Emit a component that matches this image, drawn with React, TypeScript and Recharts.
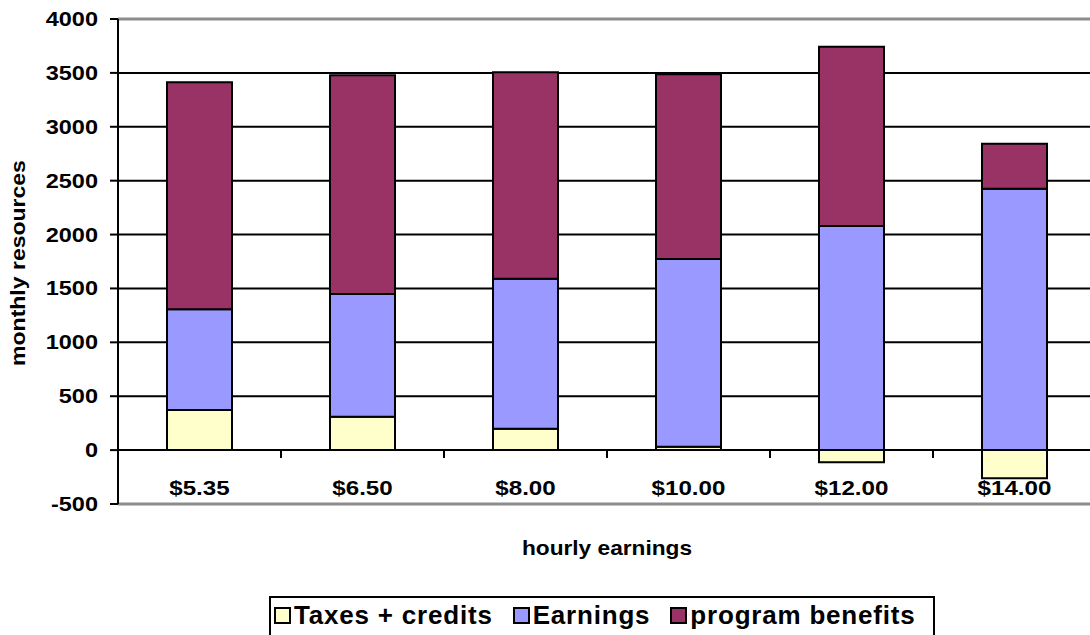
import { Bar, BarChart, CartesianGrid, ReferenceLine, XAxis, YAxis } from 'recharts';

const wages = ['$5.35', '$6.50', '$8.00', '$10.00', '$12.00', '$14.00'];
const taxesCredits = [372, 310, 199, 32, -113, -262];
const earnings = [934, 1138, 1391, 1741, 2079, 2425];
const programBenefits = [2106, 2030, 1915, 1714, 1664, 418];
const yTicks = [-500, 0, 500, 1000, 1500, 2000, 2500, 3000, 3500, 4000];

const data = wages.map((wage, i) => ({
  wage,
  taxes: taxesCredits[i],
  earnings: earnings[i],
  benefits: programBenefits[i],
}));

const FONT = 'Arial, "Liberation Sans", Helvetica, sans-serif';
const PLOT_H = 485;
const ZERO_OFFSET = (PLOT_H * 500) / 4500;
const HALF_BAND = 81.5;

function YTick({ x, y, payload }: any) {
  return (
    <text
      x={x}
      y={y}
      dy={7}
      textAnchor="end"
      fontFamily={FONT}
      fontWeight="bold"
      fontSize={21}
      fill="#000"
      transform={`translate(${x},${y}) scale(1.12,1) translate(${-x},${-y})`}
    >
      {payload.value}
    </text>
  );
}

function XTick({ x, y, payload }: any) {
  const zeroY = y - ZERO_OFFSET;
  return (
    <g>
      <line x1={x + HALF_BAND} x2={x + HALF_BAND} y1={zeroY} y2={zeroY + 8} stroke="#000" strokeWidth={2} />
      <text
        x={x}
        y={y}
        dy={-9}
        textAnchor="middle"
        fontFamily={FONT}
        fontWeight="bold"
        fontSize={21}
        fill="#000"
        transform={`translate(${x},${y}) scale(1.15,1) translate(${-x},${-y})`}
      >
        {payload.value}
      </text>
    </g>
  );
}

const legendItems = [
  { name: 'Taxes + credits', color: '#FFFFCC' },
  { name: 'Earnings', color: '#9999FF' },
  { name: 'program benefits', color: '#993366' },
];

export default function App() {
  return (
    <div
      style={{
        position: 'absolute',
        left: 0,
        top: 0,
        width: 1090,
        height: 635,
        overflow: 'hidden',
        background: '#fff',
        fontFamily: FONT,
      }}
    >
      <BarChart
        width={1100}
        height={635}
        data={data}
        stackOffset="sign"
        barSize={65}
        margin={{ top: 19, right: 4, bottom: 101, left: 0 }}
      >
        <CartesianGrid vertical={false} stroke="#000" strokeWidth={2} />
        <XAxis
          dataKey="wage"
          height={30}
          axisLine={false}
          tickLine={false}
          tickSize={0}
          tickMargin={0}
          interval={0}
          tick={<XTick />}
        />
        <YAxis
          width={118}
          domain={[-500, 4000]}
          ticks={yTicks}
          interval={0}
          tickSize={8}
          tickMargin={12}
          axisLine={{ stroke: '#000', strokeWidth: 2 }}
          tickLine={{ stroke: '#000', strokeWidth: 2 }}
          tick={<YTick />}
        />
        <ReferenceLine y={4000} stroke="#8c8c8c" strokeWidth={3} />
        <ReferenceLine y={-500} stroke="#8c8c8c" strokeWidth={3} />
        <Bar dataKey="taxes" stackId="a" fill="#FFFFCC" stroke="#000" strokeWidth={2} isAnimationActive={false} />
        <Bar dataKey="earnings" stackId="a" fill="#9999FF" stroke="#000" strokeWidth={2} isAnimationActive={false} />
        <Bar dataKey="benefits" stackId="a" fill="#993366" stroke="#000" strokeWidth={2} isAnimationActive={false} />
      </BarChart>

      <div style={{ position: 'absolute', left: 18, top: 263, width: 0, height: 0 }}>
        <span
          style={{
            position: 'absolute',
            left: 0,
            top: 0,
            whiteSpace: 'nowrap',
            fontWeight: 'bold',
            fontSize: 20,
            transform: 'translate(-50%, -50%) rotate(-90deg) scaleX(1.15)',
          }}
        >
          monthly resources
        </span>
      </div>

      <div style={{ position: 'absolute', left: 607, top: 548, width: 0, height: 0 }}>
        <span
          style={{
            position: 'absolute',
            left: 0,
            top: 0,
            whiteSpace: 'nowrap',
            fontWeight: 'bold',
            fontSize: 21,
            transform: 'translate(-50%, -50%) scaleX(1.08)',
          }}
        >
          hourly earnings
        </span>
      </div>

      <div
        style={{
          position: 'absolute',
          left: 269,
          top: 596,
          width: 666,
          height: 50,
          border: '2px solid #000',
          boxSizing: 'border-box',
          display: 'flex',
          alignItems: 'flex-start',
          paddingTop: 2,
          paddingLeft: 3,
          gap: 20,
        }}
      >
        {legendItems.map((item) => (
          <div key={item.name} style={{ display: 'flex', alignItems: 'center', gap: 3 }}>
            <span
              style={{
                display: 'inline-block',
                width: 13,
                height: 13,
                background: item.color,
                border: '2px solid #000',
              }}
            />
            <span style={{ fontWeight: 'bold', fontSize: 26, letterSpacing: 0.8, whiteSpace: 'nowrap' }}>
              {item.name}
            </span>
          </div>
        ))}
      </div>
    </div>
  );
}
